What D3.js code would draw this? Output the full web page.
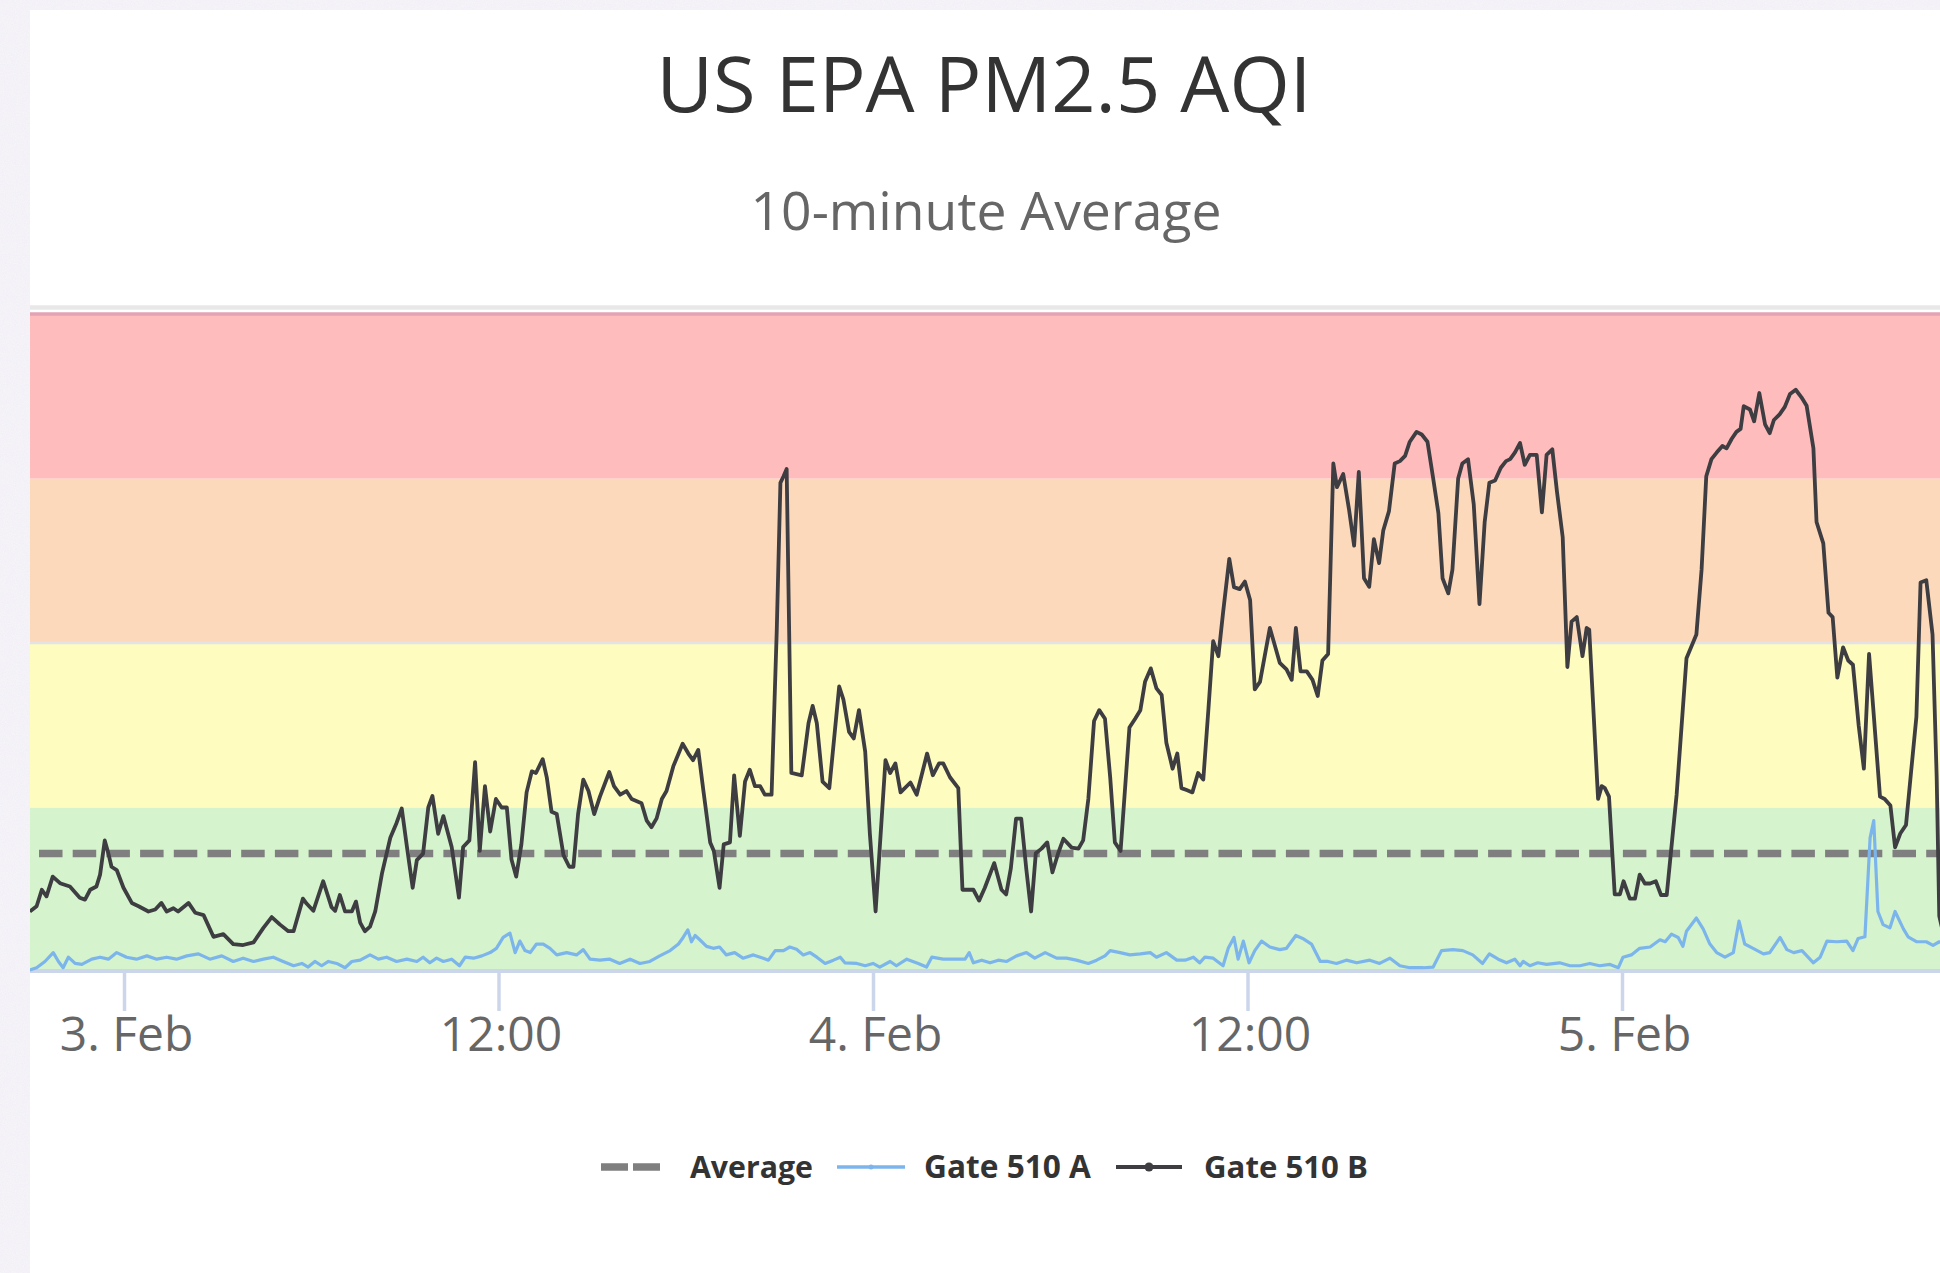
<!DOCTYPE html>
<html>
<head>
<meta charset="utf-8">
<script src="https://cdn.jsdelivr.net/npm/d3@7/dist/d3.min.js"></script>
<style>
  html, body { margin: 0; padding: 0; background: #fff; }
  svg { display: block; }
</style>
</head>
<body>
<div class="container"></div>
<script>
var chartTitle = "US EPA PM2.5 AQI";
var chartSubtitle = "10-minute Average";
var seriesNames = ["Average", "Gate 510 A", "Gate 510 B"];

// AQI category bands
var bandFrom = [0, 50, 100, 150];
var bandTo = [50, 100, 150, 200];
var bandColors = ["#d5f3cc", "#fefcbf", "#fdd9bb", "#ffbcbc"];

var averageValue = 36;

// readings, minutes after 3 Feb 00:00
var gateBMinutes = [-181,-168,-158,-149,-137,-123,-104,-85,-75,-65,-53,-46,-37,-30,-24,-14,-1,15,28,47,60,72,82,95,104,124,137,153,172,191,210,229,249,268,284,300,316,326,344,351,364,383,399,406,415,425,438,446,454,463,473,483,496,512,524,534,544,
  555,563,575,585,593,604,614,630,644,652,664,675,684,694,704,715,726,736,745,754,764,774,784,792,805,813,822,832,845,856,864,873,883,893,904,915,933,942,954,966,976,995,1005,1014,1024,1034,1043,1056,1074,1085,1094,1104,1114,1127,1134,1145,1153,1165,1173,1184,1194,1203,1213,1223,1232,1245,1255,1262,1268,1274,1283,
  1303,1316,1324,1332,1343,1356,1375,1383,1394,1403,1413,1425,1434,1445,1464,1473,1483,1493,1512,1524,1544,1555,1567,1575,1588,1604,1612,1633,1644,1655,1673,1687,1696,1705,1715,1725,1735,1744,1753,1764,1775,1785,1796,1806,1822,1835,1844,1854,1865,1875,1886,1896,1905,1916,1933,1944,1954,1963,1974,1985,1995,2004,
  2016,2025,2033,2043,2054,2065,2075,2085,2094,2104,2113,2125,2134,2145,2155,2165,2174,2184,2203,2222,2235,2245,2253,2262,2274,2285,2295,2304,2315,2325,2332,2344,2355,2365,2374,2384,2394,2403,2413,2421,2432,2443,2453,2463,2472,2485,2495,2506,2517,2527,2535,2546,2554,2565,2573,2584,2595,2606,2616,2625,2636,2647,2657,2665,2674,2684,2693,2703,2716,2726,2735,2746,
  2755,2766,2775,2783,2793,2804,2812,2817,2834,2841,2847,2855,2866,2876,2883,2895,2905,2914,2924,2934,2945,2955,2966,2985,3004,3023,3033,3042,3052,3062,3073,3081,3091,3100,3108,3114,3126,3134,3144,3155,3164,3172,3183,3193,3203,3214,3225,3235,3248,3254,3267,3277,3285,3294,3305,3315,3324,3335,3345,3355,3363,3376,3385,3396,3405,3415,3426,3436,3446,3454,3465,3477,3485,3490,3500];
var gateBValues = [18.4,20,25,23,29,27,26,22.6,22,25,26,29.6,40,36,32,31,25.6,21,20,18.4,19,21,18.4,19.4,18.4,21,18,17.3,10.7,11.5,8.5,8.2,9,13.4,16.7,14.4,12.4,12.4,22.3,20.8,18.6,27.6,19.7,18.6,23.4,18.4,18.4,21.4,15,12.4,13.8,18.4,30,40.8,45.3,49.7,38,
  25.6,34,36,50,53.5,42,47.4,38,22.6,38,40,63.8,36.8,56.5,42.7,52.6,50,50,34.2,29,38.8,54.6,61,60.5,64.7,59,48.7,48,35.5,32,32,48,58.5,55,48,53.3,60.8,56.5,53.9,55,52.6,51.3,46,44,46.7,52.6,55,62.5,69.4,66.4,64.4,67.5,55,39.4,36.8,25.6,38.8,39.4,59.8,41.4,57.9,61.5,56.5,56.5,53.9,53.9,104,148.7,150.7,152.9,60.5,
  59.8,75.6,80.9,75.6,57.9,55.9,86.8,82.9,73,71,79.6,67,42,18.4,64.4,60.5,63.4,54.6,57.6,53.9,66.4,59.8,63.4,63.4,59.2,55.9,25,25,21.7,25.6,33.1,25,23.6,31.5,46.6,46.6,30.9,18.4,36.1,37.5,39.4,30.3,36.1,40.5,37.8,37.5,40,52.6,76.3,79.6,77,59.2,39.4,36.8,74.3,77,79.6,88.2,92.3,86.2,84.2,69.7,
  61.8,66.4,55.9,55.3,54.6,60.5,58.5,80.2,100.6,96,109.2,125.6,117,116.4,118.7,113.1,85.9,88.2,104.6,94,92,88.8,104.6,91.4,91.4,88.8,83.9,94.7,96.7,154.6,147.4,151.4,140.8,129.6,152,119.7,117.1,131.6,124.3,134.2,140.1,154.6,155.3,156.9,161.2,164.2,163.4,161.2,150,139.5,119.7,115.1,122.3,150,154.6,155.9,142.1,111.8,136.8,148.7,149.4,153.3,155.3,155.9,157.9,160.8,154.2,157.2,157.2,139.7,157.2,158.9,
  146,132.2,92.7,106.5,107.9,96,104.6,104,52.6,56.5,55.9,53.3,23.6,23.6,27.6,22.3,22.3,29.6,26.9,26.9,27.6,23.4,23.4,53.9,95.4,102.6,122.3,150.7,155.9,157.9,159.9,159.2,162.1,164.2,165.1,172,171,167.4,176,166.5,163.8,167.8,169.5,171.8,175.7,177,174.7,172.1,159.2,136.8,130.3,109.2,107.9,89.5,98.7,94.7,93.4,75,61.8,96.7,80.2,53.3,52.6,50.6,37.9,42.1,44.7,61.2,77.6,118.4,119.1,102.6,59.2,17,10];

var gateAMinutes = [-181,-168,-152,-136,-126,-117,-107,-94,-81,-62,-46,-30,-14,5,24,44,63,82,101,121,143,165,188,210,229,249,268,287,306,326,342,354,367,380,393,409,425,438,454,473,489,505,524,544,
  563,575,588,601,614,630,645,656,672,688,704,716,729,742,752,761,771,781,793,806,819,832,851,870,883,896,915,934,953,973,992,1011,1030,1050,1066,1075,1084,1091,1098,1107,1120,1133,1145,1158,1174,1190,1210,1229,1239,1252,1268,
  1280,1293,1306,1319,1332,1348,1364,1377,1386,1409,1425,1440,1453,1473,1485,1505,1527,1543,1553,1575,1600,1617,1625,1633,1649,1665,1681,1697,1716,1735,1751,1771,1793,1812,1831,1854,1870,1886,1896,1915,1934,1954,1973,1985,2004,
  2024,2040,2056,2068,2078,2094,2113,2123,2134,2142,2152,2163,2174,2187,2203,2222,2235,2253,2266,2283,2300,2315,2331,2350,2370,2395,2414,2434,2453,2472,2498,2517,2533,2555,2574,2593,2612,2625,2642,2658,2674,2684,2690,2703,2718,2735,
  2760,2780,2799,2818,2837,2857,2873,2882,2898,2914,2934,2953,2963,2975,2988,2997,3004,3023,3036,3049,3062,3078,3094,3105,3116,3132,3152,3164,3184,3197,3210,3226,3248,3261,3274,3293,3312,3324,3334,3347,3357,3364,3372,3382,3395,3405,3421,3430,3446,3465,3478,3490,3500];
var gateAValues = [0.6,1.3,3.2,5.9,3.2,1.3,4.5,2.6,2.3,3.9,4.5,3.9,5.9,4.5,3.9,4.9,3.9,4.5,3.9,4.9,5.5,3.9,4.9,3.2,4.2,3.2,3.9,4.5,3.2,1.9,2.6,1.5,3.2,1.9,3.2,2.6,1.3,3.2,3.6,5.2,3.9,4.5,3.2,3.9,
  3.2,4.5,2.8,4.2,3.2,3.9,1.9,4.5,4.2,4.9,5.9,7.2,10.5,11.8,5.9,9.4,6.5,5.9,8.5,8.5,7.2,5.2,5.9,5.2,6.8,3.9,3.6,3.9,2.6,3.9,2.6,3.2,4.9,6.5,8.5,10.5,12.8,9.2,11.1,9.8,7.8,7.2,7.6,5.2,5.9,4.2,5.2,4.2,3.6,6.5,6.5,
  7.6,6.9,5.2,5.9,4.5,2.6,3.6,4.5,2.8,2.6,1.9,2.6,1.5,3.2,1.9,3.9,2.6,1.5,4.5,3.9,3.9,3.9,5.9,2.8,3.6,2.8,3.6,3.2,4.9,5.9,4.2,5.9,4.2,4.2,3.6,2.6,3.6,4.9,6.5,5.9,5.2,5.5,5.9,4.5,5.9,
  3.6,3.6,4.5,2.8,4.5,4.2,1.9,7.2,10.5,3.9,9.4,2.8,6.5,9.4,7.6,6.8,7.2,11.1,10.2,8.5,3.2,3.2,2.6,3.6,2.8,3.6,2.6,4.2,1.9,1.3,1.3,1.5,6.5,6.8,6.5,5.2,2.6,5.5,3.9,2.8,3.9,1.9,3.2,1.9,2.8,2.3,
  2.8,1.9,1.9,2.6,1.9,2.3,1.3,4.5,5.2,7.2,7.6,9.8,9.2,11.5,10.5,7.8,12.4,16.4,13.1,8.5,5.9,4.5,5.9,15.5,8.5,7.2,5.5,5.9,10.5,6.8,5.9,6.5,2.8,4.5,9.4,9.2,9.4,6.5,10.2,10.7,40.8,46,18.4,14.4,13.4,18.4,13.1,10.7,9.2,9.2,8.1,9.2,8.5];

var W = 1940, H = 1273;
var day0 = new Date(2020, 1, 3, 0, 0);

function toPoints(minutes, values) {
  return minutes.map(function(m, i) {
    return { date: new Date(day0.getTime() + m * 60000), value: values[i] };
  });
}

var gateA = toPoints(gateAMinutes, gateAValues);
var gateB = toPoints(gateBMinutes, gateBValues);

buildChart();

function buildChart() {

  /* ===== SET UP CHART ===== */
  var plot = {left: 30, right: 1940, top: 305, bottom: 972};

  var svg = d3.select('.container')
    .append('svg')
    .attr('width', W)
    .attr('height', H)
    .style('font-family', '"Open Sans", "Noto Sans", sans-serif');

  // speckled page background round the card
  var defs = svg.append('defs');
  var noise = defs.append('filter').attr('id', 'speckle');
  noise.append('feTurbulence')
    .attr('type', 'fractalNoise')
    .attr('baseFrequency', 0.9)
    .attr('numOctaves', 2)
    .attr('seed', 3);
  noise.append('feColorMatrix')
    .attr('type', 'matrix')
    .attr('values', '0 0 0 0 0.8  0 0 0 0 0.75  0 0 0 0 0.9  0 0 0 -1.2 1.1');

  defs.append('clipPath').attr('id', 'plotClip')
    .append('rect')
    .attr('x', plot.left).attr('y', plot.top)
    .attr('width', plot.right - plot.left)
    .attr('height', plot.bottom - plot.top);

  svg.append('rect').attr('width', W).attr('height', H).attr('fill', '#f6f5f8');
  svg.append('rect').attr('width', W).attr('height', H)
    .attr('filter', 'url(#speckle)').attr('opacity', 0.3);
  svg.append('rect')
    .attr('x', 30).attr('y', 10)
    .attr('width', W - 30).attr('height', H - 10)
    .attr('fill', '#ffffff');

  var x = d3.scaleTime()
    .domain([day0, new Date(2020, 1, 5, 0, 0)])
    .range([124, 1622]);

  var y = d3.scaleLinear()
    .domain([0, 202])
    .range([plot.bottom, 307.5]);

  /* ===== BANDS AND GRID ===== */
  svg.append('g').selectAll('rect')
    .data(bandFrom)
    .enter()
    .append('rect')
    .attr('x', plot.left)
    .attr('width', plot.right - plot.left)
    .attr('y', function(d, i) { return y(bandTo[i]); })
    .attr('height', function(d, i) { return y(bandFrom[i]) - y(bandTo[i]); })
    .attr('fill', function(d, i) { return bandColors[i]; });

  svg.append('line')
    .attr('x1', plot.left).attr('x2', plot.right)
    .attr('y1', 307.5).attr('y2', 307.5)
    .attr('stroke', '#e8e8e8').attr('stroke-width', 4.5);

  svg.append('line')
    .attr('x1', plot.left).attr('x2', plot.right)
    .attr('y1', y(200)).attr('y2', y(200))
    .attr('stroke', '#e4a3b5').attr('stroke-width', 3.5);

  svg.append('line')
    .attr('x1', plot.left).attr('x2', plot.right)
    .attr('y1', y(100)).attr('y2', y(100))
    .attr('stroke', '#e4e2e6').attr('stroke-width', 2.5);

  /* ===== X AXIS ===== */
  var tickDates = d3.timeHour.every(12).range(x.invert(plot.left), x.invert(2100));
  var fmtDay = d3.timeFormat('%-d. %b'),
      fmtHour = d3.timeFormat('%H:%M');

  var xAxis = d3.axisBottom(x)
    .tickValues(tickDates)
    .tickSize(39)
    .tickFormat(function(d) { return d.getHours() === 0 ? fmtDay(d) : fmtHour(d); });

  var gx = svg.append('g')
    .attr('transform', 'translate(0,' + plot.bottom + ')')
    .call(xAxis);

  gx.select('.domain').remove();
  gx.selectAll('.tick line')
    .attr('stroke', '#ccd6eb')
    .attr('stroke-width', 3.5);
  gx.selectAll('.tick text')
    .attr('y', 79)
    .attr('dy', 0)
    .attr('x', 2)
    .attr('fill', '#666666')
    .style('font-size', '48px')
    .style('font-family', '"Open Sans", sans-serif');

  svg.append('line')
    .attr('x1', plot.left).attr('x2', plot.right)
    .attr('y1', plot.bottom - 1).attr('y2', plot.bottom - 1)
    .attr('stroke', '#ccd6eb').attr('stroke-width', 4);

  /* ===== SERIES ===== */
  var line = d3.line()
    .x(function(d) { return x(d.date); })
    .y(function(d) { return y(d.value); });

  var series = svg.append('g').attr('clip-path', 'url(#plotClip)');

  series.append('line')
    .attr('x1', plot.left).attr('x2', plot.right)
    .attr('y1', y(averageValue)).attr('y2', y(averageValue))
    .attr('stroke', '#7f7f7f')
    .attr('stroke-width', 7.5)
    .attr('stroke-dasharray', '23.5,10.2')
    .attr('stroke-dashoffset', 24.7);

  series.append('path')
    .datum(gateA)
    .attr('d', line)
    .attr('fill', 'none')
    .attr('stroke', '#7cb5ec')
    .attr('stroke-width', 3.2)
    .attr('stroke-linejoin', 'round');

  series.append('path')
    .datum(gateB)
    .attr('d', line)
    .attr('fill', 'none')
    .attr('stroke', '#3d3d42')
    .attr('stroke-width', 3.8)
    .attr('stroke-linejoin', 'round');

  /* ===== LABELS ===== */
  function fitWidth(sel, target) {
    var w = sel.node().getComputedTextLength();
    var fs = parseFloat(sel.attr('font-size'));
    sel.attr('font-size', fs * target / w);
  }

  var title = svg.append('text')
    .attr('x', 984).attr('y', 112)
    .attr('text-anchor', 'middle')
    .attr('font-size', 80)
    .attr('fill', '#333333')
    .text(chartTitle);
  fitWidth(title, 655);

  var subtitle = svg.append('text')
    .attr('x', 986).attr('y', 230)
    .attr('text-anchor', 'middle')
    .attr('font-size', 52)
    .attr('fill', '#666666')
    .text(chartSubtitle);
  fitWidth(subtitle, 471);

  /* ===== LEGEND ===== */
  var legendY = 1167;
  var legend = svg.append('g');

  legend.append('line')
    .attr('x1', 601).attr('x2', 661)
    .attr('y1', legendY).attr('y2', legendY)
    .attr('stroke', '#7f7f7f').attr('stroke-width', 7.5)
    .attr('stroke-dasharray', '27,5');

  legend.append('line')
    .attr('x1', 837).attr('x2', 905)
    .attr('y1', legendY).attr('y2', legendY)
    .attr('stroke', '#7cb5ec').attr('stroke-width', 3.5);
  legend.append('circle')
    .attr('cx', 871).attr('cy', legendY).attr('r', 2.5)
    .attr('fill', '#7cb5ec');

  legend.append('line')
    .attr('x1', 1116).attr('x2', 1182)
    .attr('y1', legendY).attr('y2', legendY)
    .attr('stroke', '#3d3d42').attr('stroke-width', 3.8);
  legend.append('circle')
    .attr('cx', 1149).attr('cy', legendY).attr('r', 4.5)
    .attr('fill', '#3d3d42');

  var legendX = [690, 924, 1204];
  var legendW = [123, 167, 164];
  seriesNames.forEach(function(name, i) {
    var t = legend.append('text')
      .attr('x', legendX[i]).attr('y', 1178)
      .attr('font-size', 30)
      .attr('font-weight', 'bold')
      .attr('fill', '#333333')
      .text(name);
    fitWidth(t, legendW[i]);
  });
}
</script>
</body>
</html>
